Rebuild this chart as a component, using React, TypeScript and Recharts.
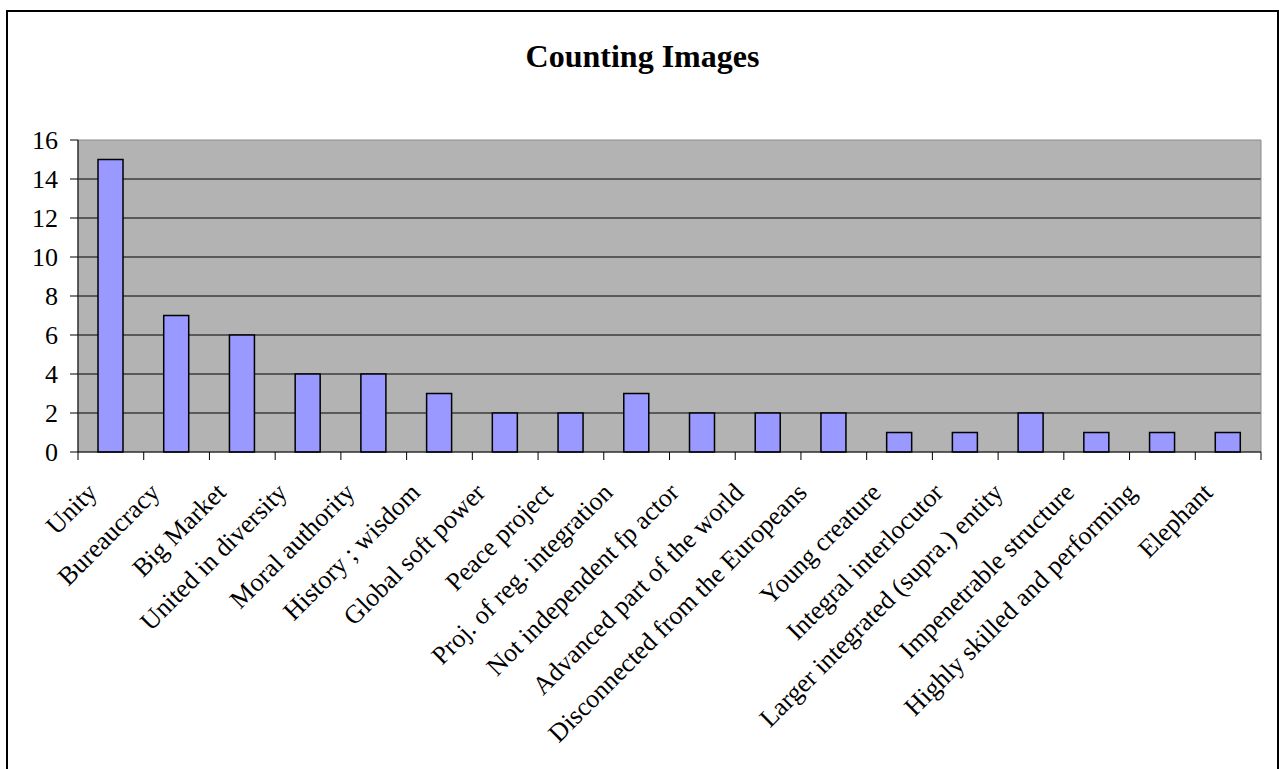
import React from "react";
import { BarChart, Bar, XAxis, YAxis, CartesianGrid, ReferenceArea } from "recharts";

const categories = [
  "Unity",
  "Bureaucracy",
  "Big Market",
  "United in diversity",
  "Moral authority",
  "History ; wisdom",
  "Global soft power",
  "Peace project",
  "Proj. of reg. integration",
  "Not independent fp actor",
  "Advanced part of the world",
  "Disconnected from the Europeans",
  "Young creature",
  "Integral interlocutor",
  "Larger integrated (supra.) entity",
  "Impenetrable structure",
  "Highly skilled and performing",
  "Elephant",
];
const counts = [15, 7, 6, 4, 4, 3, 2, 2, 3, 2, 2, 2, 1, 1, 2, 1, 1, 1];
const yTicks = [0, 2, 4, 6, 8, 10, 12, 14, 16];
const gridValues = [2, 4, 6, 8, 10, 12, 14];
const title = "Counting Images";

const data = categories.map((name, i) => ({ name, value: counts[i] }));

const W = 1279;
const H = 769;
const M_TOP = 140;
const M_RIGHT = 18;
const Y_W = 78;
const PLOT_BOTTOM = 452;
const PLOT_W = W - M_RIGHT - Y_W;
const BAND = PLOT_W / categories.length;
const FONT = "'Liberation Serif', 'Times New Roman', serif";
const LABEL_SIZE = 26;

const XTick = (props: any) => {
  const { x, payload, index } = props;
  const label = String(payload.value);
  const lx = x - 10 - 0.5 * label.length;
  const ly = 494;
  return (
    <g>
      <line x1={x - BAND / 2} x2={x - BAND / 2} y1={PLOT_BOTTOM} y2={PLOT_BOTTOM + 8} stroke="#000" strokeWidth={1} />
      {index === categories.length - 1 && (
        <line x1={x + BAND / 2} x2={x + BAND / 2} y1={PLOT_BOTTOM} y2={PLOT_BOTTOM + 8} stroke="#000" strokeWidth={1} />
      )}
      <text
        x={lx}
        y={ly}
        textAnchor="end"
        transform={`rotate(-45, ${lx}, ${ly})`}
        fontSize={LABEL_SIZE}
        fontFamily={FONT}
        fill="#000"
      >
        {label}
      </text>
    </g>
  );
};

export default function App() {
  return (
    <div style={{ position: "fixed", left: 0, top: 0, width: W, height: H, overflow: "hidden", background: "#fff" }}>
      <div
        style={{
          position: "absolute",
          left: 6,
          top: 10,
          width: W - 6,
          height: 900,
          border: "2px solid #000",
          boxSizing: "border-box",
        }}
      />
      <div
        style={{
          position: "absolute",
          left: 0,
          top: 40,
          width: 1285,
          textAlign: "center",
          fontFamily: FONT,
          fontWeight: "bold",
          fontSize: 32,
          lineHeight: "32px",
          color: "#000",
        }}
      >
        {title}
      </div>
      <div style={{ position: "absolute", left: 0, top: 0 }}>
        <BarChart
          width={W}
          height={H}
          data={data}
          margin={{ top: M_TOP, right: M_RIGHT, left: 0, bottom: 17 }}
          barSize={25}
        >
          <CartesianGrid
            vertical={false}
            fill="#b3b3b3"
            fillOpacity={1}
            stroke="#000"
            horizontalValues={gridValues}
          />
          <ReferenceArea y1={0} y2={16} fill="none" stroke="#8c8c8c" strokeWidth={1} ifOverflow="extendDomain" />
          <XAxis
            dataKey="name"
            interval={0}
            height={300}
            tickLine={false}
            axisLine={{ stroke: "#000", strokeWidth: 1 }}
            tick={<XTick />}
          />
          <YAxis
            width={Y_W}
            domain={[0, 16]}
            ticks={yTicks}
            interval={0}
            tickSize={8}
            tickMargin={12}
            axisLine={{ stroke: "#000", strokeWidth: 1 }}
            tickLine={{ stroke: "#000", strokeWidth: 1 }}
            tick={{ fontSize: LABEL_SIZE, fontFamily: FONT, fill: "#000" }}
          />
          <Bar dataKey="value" fill="#9999ff" stroke="#000" strokeWidth={1.5} isAnimationActive={false} />
        </BarChart>
      </div>
    </div>
  );
}
